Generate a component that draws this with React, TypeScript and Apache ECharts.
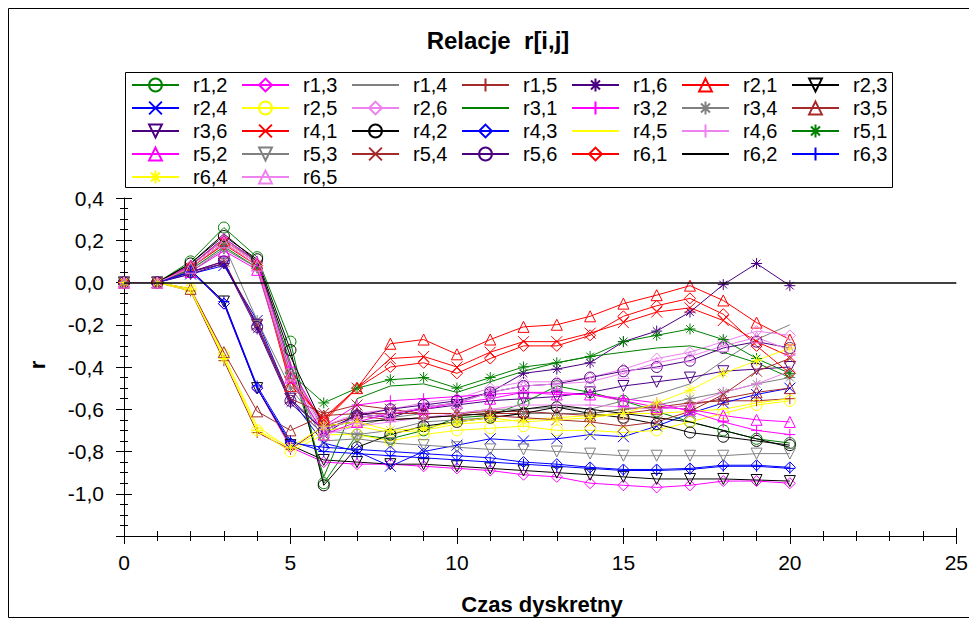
import React, { useEffect, useRef } from "react";
import * as echarts from "echarts";

const times = [0, 1, 2, 3, 4, 5, 6, 7, 8, 9, 10, 11, 12, 13, 14, 15, 16, 17, 18, 19, 20];

const seriesNames = [
  "r1,2", "r1,3", "r1,4", "r1,5", "r1,6", "r2,1", "r2,3",
  "r2,4", "r2,5", "r2,6", "r3,1", "r3,2", "r3,4", "r3,5",
  "r3,6", "r4,1", "r4,2", "r4,3", "r4,5", "r4,6", "r5,1",
  "r5,2", "r5,3", "r5,4", "r5,6", "r6,1", "r6,2", "r6,3",
  "r6,4", "r6,5",
];

const r12 = [0, 0, 0.10, 0.26, 0.12, -0.28, -0.95, -0.72, -0.74, -0.70, -0.64, -0.63, -0.57, -0.49, -0.52, -0.56, -0.61, -0.66, -0.70, -0.74, -0.76];
const r13 = [0, 0, 0.06, -0.10, -0.50, -0.78, -0.85, -0.86, -0.86, -0.87, -0.88, -0.89, -0.91, -0.92, -0.95, -0.96, -0.97, -0.96, -0.94, -0.94, -0.95];
const r14 = [0, 0, 0.08, 0.20, 0.10, -0.40, -0.70, -0.68, -0.64, -0.62, -0.62, -0.60, -0.60, -0.59, -0.60, -0.56, -0.53, -0.48, -0.37, -0.27, -0.20];
const r15 = [0, 0, -0.04, -0.37, -0.71, -0.79, -0.68, -0.63, -0.65, -0.64, -0.63, -0.62, -0.62, -0.62, -0.62, -0.60, -0.59, -0.57, -0.56, -0.56, -0.55];
const r16 = [0, 0, 0.05, 0.09, -0.22, -0.57, -0.72, -0.62, -0.64, -0.59, -0.57, -0.52, -0.43, -0.41, -0.38, -0.28, -0.23, -0.14, -0.01, 0.09, -0.015];
const r21 = [0, 0, 0.08, 0.20, 0.09, -0.49, -0.64, -0.50, -0.29, -0.27, -0.34, -0.27, -0.21, -0.20, -0.16, -0.10, -0.06, -0.015, -0.085, -0.19, -0.27];
const r23 = [0, 0, 0.06, -0.09, -0.50, -0.77, -0.84, -0.85, -0.86, -0.86, -0.87, -0.88, -0.89, -0.90, -0.91, -0.92, -0.93, -0.93, -0.93, -0.935, -0.94];
const r24 = [0, 0, 0.04, 0.08, -0.18, -0.55, -0.76, -0.80, -0.87, -0.80, -0.77, -0.74, -0.75, -0.74, -0.72, -0.73, -0.68, -0.62, -0.57, -0.53, -0.50];
const r25 = [0, 0, -0.03, -0.34, -0.70, -0.80, -0.72, -0.72, -0.75, -0.72, -0.70, -0.69, -0.68, -0.70, -0.70, -0.71, -0.70, -0.66, -0.62, -0.58, -0.56];
const r26 = [0, 0, 0.08, 0.20, 0.09, -0.42, -0.68, -0.62, -0.60, -0.57, -0.55, -0.50, -0.47, -0.47, -0.45, -0.41, -0.36, -0.33, -0.28, -0.23, -0.25];
const r31 = [0, 0, 0.08, 0.21, 0.10, -0.38, -0.92, -0.55, -0.49, -0.48, -0.52, -0.47, -0.42, -0.38, -0.35, -0.33, -0.31, -0.30, -0.33, -0.38, -0.45];
const r32 = [0, 0, 0.08, 0.21, 0.10, -0.40, -0.68, -0.58, -0.56, -0.55, -0.54, -0.53, -0.52, -0.52, -0.53, -0.55, -0.57, -0.61, -0.66, -0.70, -0.72];
const r34 = [0, 0, 0.07, 0.18, -0.18, -0.50, -0.70, -0.72, -0.70, -0.66, -0.65, -0.64, -0.62, -0.62, -0.62, -0.60, -0.58, -0.55, -0.52, -0.48, -0.45];
const r35 = [0, 0, -0.03, -0.33, -0.61, -0.70, -0.63, -0.62, -0.62, -0.62, -0.62, -0.61, -0.61, -0.62, -0.63, -0.62, -0.60, -0.58, -0.55, -0.52, -0.50];
const r36 = [0, 0, 0.04, 0.09, -0.20, -0.55, -0.70, -0.64, -0.62, -0.60, -0.58, -0.56, -0.55, -0.54, -0.52, -0.49, -0.47, -0.45, -0.42, -0.41, -0.40];
const r41 = [0, 0, 0.07, 0.19, 0.08, -0.47, -0.65, -0.50, -0.36, -0.35, -0.40, -0.33, -0.28, -0.28, -0.24, -0.19, -0.14, -0.12, -0.18, -0.28, -0.35];
const r42 = [0, 0, 0.09, 0.22, 0.11, -0.32, -0.96, -0.78, -0.72, -0.68, -0.66, -0.64, -0.62, -0.59, -0.62, -0.64, -0.67, -0.71, -0.73, -0.75, -0.77];
const r43 = [0, 0, 0.06, -0.10, -0.50, -0.76, -0.78, -0.79, -0.80, -0.81, -0.82, -0.83, -0.85, -0.86, -0.875, -0.885, -0.885, -0.88, -0.865, -0.865, -0.875];
const r45 = [0, 0, -0.04, -0.35, -0.68, -0.79, -0.70, -0.68, -0.71, -0.70, -0.67, -0.66, -0.65, -0.64, -0.63, -0.62, -0.62, -0.61, -0.60, -0.57, -0.55];
const r46 = [0, 0, 0.06, 0.16, 0.07, -0.46, -0.72, -0.68, -0.66, -0.64, -0.62, -0.60, -0.58, -0.58, -0.58, -0.59, -0.60, -0.58, -0.52, -0.48, -0.42];
const r51 = [0, 0, 0.06, 0.17, 0.07, -0.43, -0.57, -0.50, -0.46, -0.45, -0.50, -0.45, -0.40, -0.38, -0.35, -0.28, -0.25, -0.22, -0.27, -0.36, -0.43];
const r52 = [0, 0, 0.05, 0.15, 0.06, -0.45, -0.72, -0.66, -0.62, -0.60, -0.57, -0.55, -0.52, -0.53, -0.53, -0.56, -0.59, -0.60, -0.63, -0.65, -0.66];
const r53 = [0, 0, 0.05, 0.16, 0.07, -0.45, -0.75, -0.74, -0.76, -0.77, -0.78, -0.79, -0.79, -0.80, -0.81, -0.82, -0.82, -0.82, -0.82, -0.81, -0.81];
const r54 = [0, 0, 0.05, 0.10, -0.20, -0.55, -0.62, -0.58, -0.60, -0.62, -0.62, -0.63, -0.64, -0.65, -0.66, -0.68, -0.66, -0.61, -0.53, -0.42, -0.36];
const r56 = [0, 0, 0.05, 0.10, -0.21, -0.56, -0.70, -0.63, -0.60, -0.58, -0.56, -0.52, -0.49, -0.48, -0.45, -0.42, -0.40, -0.37, -0.31, -0.28, -0.31];
const r61 = [0, 0, 0.07, 0.18, 0.08, -0.45, -0.66, -0.50, -0.40, -0.38, -0.43, -0.36, -0.30, -0.30, -0.25, -0.16, -0.11, -0.075, -0.15, -0.30, -0.43];
const r62 = [0, 0, 0.09, 0.23, 0.10, -0.35, -0.68, -0.66, -0.65, -0.64, -0.63, -0.62, -0.60, -0.58, -0.60, -0.62, -0.64, -0.66, -0.70, -0.74, -0.78];
const r63 = [0, 0, 0.05, -0.09, -0.49, -0.75, -0.80, -0.81, -0.82, -0.83, -0.84, -0.85, -0.86, -0.87, -0.88, -0.89, -0.89, -0.885, -0.87, -0.87, -0.88];
const r64 = [0, 0, -0.03, -0.36, -0.70, -0.78, -0.68, -0.66, -0.70, -0.69, -0.66, -0.64, -0.66, -0.65, -0.64, -0.62, -0.57, -0.51, -0.43, -0.37, -0.31];
const r65 = [0, 0, 0.07, 0.19, 0.08, -0.44, -0.70, -0.64, -0.62, -0.59, -0.57, -0.52, -0.49, -0.48, -0.47, -0.43, -0.38, -0.35, -0.30, -0.26, -0.32];

const seriesValues = [
  r12, r13, r14, r15, r16, r21, r23, r24, r25, r26, r31, r32, r34, r35, r36,
  r41, r42, r43, r45, r46, r51, r52, r53, r54, r56, r61, r62, r63, r64, r65,
];

const COLORS = ["#008000", "#FF00FF", "#808080", "#A52A2A", "#4B0082", "#FF0000", "#000000", "#0000FF", "#FFFF00", "#EE82EE"];
const PLUS = "path://M5,0L5,10M0,5L10,5";
const CROSS = "path://M0,0L10,10M10,0L0,10";
const STAR = "path://M5,0L5,10M0,5L10,5M1.5,1.5L8.5,8.5M8.5,1.5L1.5,8.5";
const UP = "path://M5,0L10,10L0,10Z";
const DOWN = "path://M0,0L10,0L5,10Z";
const MARKERS = ["circle", "diamond", "none", PLUS, STAR, UP, DOWN, CROSS];
const LEGEND_COLUMNS = 7;

const FONT = 'Arial, "Liberation Sans", sans-serif';

export default function App() {
  const ref = useRef<HTMLDivElement>(null);
  useEffect(() => {
    if (!ref.current) return;
    const chart = echarts.init(ref.current, null, { renderer: "svg" });
    const series: any[] = seriesNames.map((name, k) => {
      const c = COLORS[k % COLORS.length];
      const sym = MARKERS[k % MARKERS.length];
      return {
        name,
        type: "line",
        data: times.map((t, j) => [t, seriesValues[k][j]]),
        symbol: sym,
        symbolSize: 11,
        showSymbol: sym !== "none",
        lineStyle: { color: c, width: 1 },
        itemStyle: { color: "rgba(255,255,255,0)", borderColor: c, borderWidth: 1 },
        emphasis: { disabled: true },
      };
    });
    series.push({
      type: "line",
      data: [],
      silent: true,
      markLine: {
        silent: true,
        symbol: "none",
        label: { show: false },
        lineStyle: { color: "#000", width: 1.5, type: "solid" },
        data: [{ yAxis: 0 }],
      },
    });

    const rows: any[][] = [];
    seriesNames.forEach((name, k) => {
      const r = Math.floor(k / LEGEND_COLUMNS);
      if (!rows[r]) rows[r] = [];
      const sym = MARKERS[k % MARKERS.length];
      if (sym === "none") {
        rows[r].push({ name, itemStyle: { color: "rgba(0,0,0,0)", borderColor: "rgba(0,0,0,0)", borderWidth: 0 } });
      } else {
        rows[r].push(name);
      }
    });
    const legends = rows.map((row, i) => ({
      data: row,
      left: 123,
      top: 67 + 23 * i,
      padding: 0,
      orient: "horizontal",
      itemWidth: 47,
      itemHeight: 16,
      itemGap: 7,
      selectedMode: false,
      textStyle: { fontSize: 20, fontFamily: FONT, color: "#000", width: 41, lineHeight: 16, padding: [0, 0, 0, 9] },
    }));

    const axisCommonX = { type: "value", min: 0, max: 25, interval: 5, position: "bottom", splitLine: { show: false } };
    const axisCommonY = { type: "value", min: -1.2, max: 0.4, interval: 0.2, position: "left", splitLine: { show: false } };

    chart.setOption({
      animation: false,
      backgroundColor: "#fff",
      grid: { left: 116, right: 13, top: 190, bottom: 82, containLabel: false },
      legend: legends,
      xAxis: [
        {
          ...axisCommonX,
          axisLine: { show: true, onZero: false, lineStyle: { color: "#000", width: 1 } },
          axisTick: { show: true, inside: false, length: 8, lineStyle: { color: "#000" } },
          minorTick: { show: true, splitNumber: 5, length: 5, lineStyle: { color: "#000" } },
          axisLabel: { fontSize: 21, color: "#000", margin: 16, fontFamily: FONT },
        },
        {
          ...axisCommonX,
          axisLine: { show: false, onZero: false },
          axisTick: { show: true, inside: true, length: 8, lineStyle: { color: "#000" } },
          minorTick: { show: true, splitNumber: 5, length: 5, lineStyle: { color: "#000" } },
          axisLabel: { show: false },
        },
      ],
      yAxis: [
        {
          ...axisCommonY,
          axisLine: { show: true, onZero: false, lineStyle: { color: "#000", width: 1 } },
          axisTick: { show: true, inside: false, length: 8, lineStyle: { color: "#000" } },
          minorTick: { show: true, splitNumber: 4, length: 4, lineStyle: { color: "#000" } },
          axisLabel: {
            fontSize: 21,
            color: "#000",
            margin: 20,
            fontFamily: FONT,
            formatter: (v: number) => (v < -1.1 ? "" : v.toFixed(1).replace(".", ",")),
          },
        },
        {
          ...axisCommonY,
          axisLine: { show: false, onZero: false },
          axisTick: { show: true, inside: true, length: 8, lineStyle: { color: "#000" } },
          minorTick: { show: true, splitNumber: 4, length: 4, lineStyle: { color: "#000" } },
          axisLabel: { show: false },
        },
      ],
      graphic: [
        { type: "rect", shape: { x: 0.5, y: 0.5, width: 962, height: 609 }, style: { fill: "none", stroke: "#000", lineWidth: 1 }, silent: true, z: -1 },
        { type: "rect", shape: { x: 117.5, y: 64.5, width: 767, height: 115 }, style: { fill: "none", stroke: "#000", lineWidth: 1 }, silent: true },
        { type: "text", x: 490, y: 32, style: { text: "Relacje  r[i,j]", font: `bold 24px ${FONT}`, fill: "#000", align: "center", verticalAlign: "middle" } },
        { type: "text", x: 29, y: 357, rotation: Math.PI / 2, style: { text: "r", font: `bold 22px ${FONT}`, fill: "#000", align: "center", verticalAlign: "middle" } },
        { type: "text", x: 534, y: 596, style: { text: "Czas dyskretny", font: `bold 22px ${FONT}`, fill: "#000", align: "center", verticalAlign: "middle" } },
      ],
      series,
    });
    return () => chart.dispose();
  }, []);
  return <div ref={ref} style={{ width: 963, height: 610 }} />;
}
